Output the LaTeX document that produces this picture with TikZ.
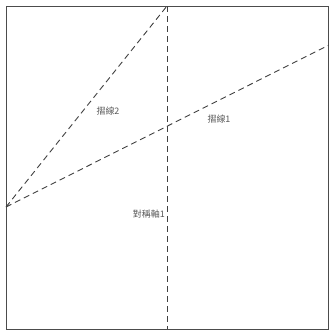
\documentclass[tikz,border=0pt]{standalone}
\usepackage{fontspec}
\newfontfamily\cjk{Noto Sans CJK TC}
\usetikzlibrary{calc}

\begin{document}
\begin{tikzpicture}[x=1bp,y=-1bp,
  foldline/.style={dashed,dash pattern=on 6bp off 4bp,line width=0.9bp,black!75},
  lab/.style={font=\cjk\fontsize{9}{10}\selectfont,text=black!65,inner sep=1bp}]
\useasboundingbox (0,0) rectangle (329,331);
\coordinate (tl) at (6,6);
\coordinate (br) at (328,329);
\coordinate (atop) at (167,6);
\coordinate (abot) at (167,329);
\coordinate (pleft) at (6,207);
\coordinate (pright) at (329,45);
\draw[line width=1bp,black!70] (tl) rectangle (br);
\draw[foldline] (atop) -- (abot);
\draw[foldline] (pleft) -- (atop);
\draw[foldline] (pleft) -- (pright);
\node[lab] (fold2) at (108,111) {摺線2};
\node[lab] (fold1) at (219,119) {摺線1};
\node[lab,anchor=east] (axis1) at (166,214) {對稱軸1};
\end{tikzpicture}
\end{document}
